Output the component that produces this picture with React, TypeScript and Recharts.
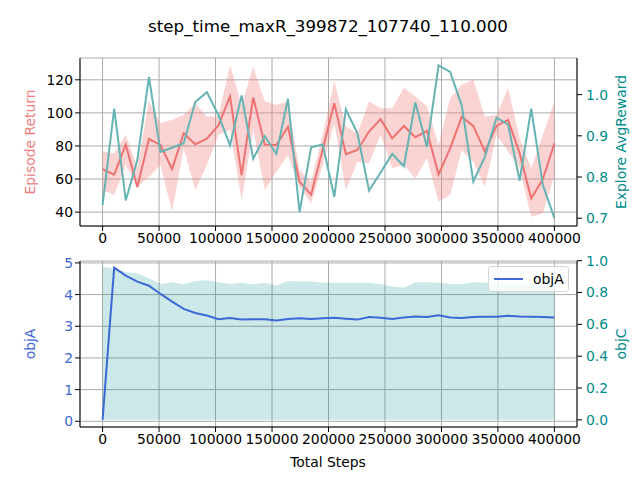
import React from "react";
import {
  ComposedChart,
  Line,
  Area,
  XAxis,
  YAxis,
  CartesianGrid,
  Legend,
} from "recharts";

// values
const steps = [
  0, 10260, 20510, 30770, 41030, 51280, 61540, 71790, 82050, 92310, 102560,
  112820, 123080, 133330, 143590, 153850, 164100, 174360, 184620, 194870,
  205130, 215380, 225640, 235900, 246150, 256410, 266670, 276920, 287180,
  297440, 307690, 317950, 328210, 338460, 348720, 358970, 369230, 379490,
  389740, 400000,
];
const episodeReturn = [
  66, 62.6, 80.8, 55, 84.2, 80.6, 66.1, 87.7, 81, 84.4, 92.5, 110, 62.4, 109.3,
  80.8, 80.6, 91.6, 58.4, 50.5, 78, 105.9, 75, 77.6, 88.7, 96.2, 84.6, 92.1,
  85.3, 89.1, 62.8, 78.6, 97.6, 92.1, 76.6, 92.1, 95.8, 75.5, 48.3, 59.9, 81.6,
];
const returnLow = [
  53.3, 50.3, 68.5, 55.5, 61.4, 68.5, 40.2, 78.6, 53.3, 68.5, 86.7, 89.7, 47.3,
  89.7, 53.3, 64.4, 74.5, 55.4, 45.3, 68.5, 93.7, 53.3, 70.5, 69.5, 86.7, 66.5,
  68.5, 60.4, 72.5, 46.3, 50.3, 77.6, 70.5, 55.4, 86.7, 76.6, 66.5, 37.2, 39.2,
  62.4,
];
const returnHigh = [
  76.6, 75.6, 86.7, 67, 106.9, 93.7, 95.8, 98.8, 105.9, 97.8, 97.8, 129, 104.8,
  128, 106.9, 104.8, 106.9, 65.5, 58.4, 86.7, 119.5, 91.7, 87.7, 106.9, 102.8,
  102.8, 115, 110, 103.8, 80.6, 108.9, 117, 120, 97.8, 98.8, 115, 84.6, 66.5,
  86.7, 106.9,
];
const exploreReward = [
  0.732, 0.966, 0.743, 0.841, 1.043, 0.861, 0.871, 0.882, 0.982, 1.006, 0.95,
  0.877, 0.998, 0.844, 0.899, 0.856, 0.99, 0.715, 0.872, 0.879, 0.752, 0.964,
  0.906, 0.767, 0.811, 0.856, 0.826, 0.981, 0.873, 1.071, 1.055, 0.974, 0.789,
  0.849, 0.944, 0.928, 0.791, 0.966, 0.781, 0.7,
];
const objA = [
  0.05, 4.85, 4.6, 4.41, 4.28, 4.02, 3.78, 3.55, 3.42, 3.34, 3.22, 3.26, 3.21,
  3.22, 3.22, 3.18, 3.23, 3.25, 3.23, 3.25, 3.27, 3.24, 3.21, 3.29, 3.27, 3.23,
  3.28, 3.31, 3.29, 3.35, 3.28, 3.26, 3.29, 3.3, 3.3, 3.33, 3.31, 3.3, 3.29,
  3.28,
];
const objC = [
  0.962, 0.952, 0.927, 0.921, 0.889, 0.854, 0.864, 0.852, 0.873, 0.877, 0.864,
  0.854, 0.862, 0.852, 0.862, 0.844, 0.873, 0.869, 0.869, 0.862, 0.862, 0.862,
  0.862, 0.862, 0.854, 0.837, 0.831, 0.864, 0.864, 0.862, 0.854, 0.854, 0.864,
  0.862, 0.857, 0.86, 0.86, 0.862, 0.862, 0.862,
];

const stepTicks = [0, 50000, 100000, 150000, 200000, 250000, 300000, 350000, 400000];
const returnTicks = [40, 60, 80, 100, 120];
const rewardTicks = [0.7, 0.8, 0.9, 1.0];
const objATicks = [0, 1, 2, 3, 4, 5];
const objCTicks = [0, 0.2, 0.4, 0.6, 0.8, 1.0];

const topData = steps.map((s, i) => ({
  step: s,
  ret: episodeReturn[i],
  band: [returnLow[i], returnHigh[i]],
  reward: exploreReward[i],
}));
const bottomData = steps.map((s, i) => ({ step: s, objA: objA[i], objC: objC[i] }));

const FONT = 13.9;
const GRID = "#ababab";
const RED = "#ee7272";
const PINK = "#f08080";
const TEAL = "#008b8b";
const TEAL_LINE = "#66b3b3";
const BLUE = "#3d68d6";
const STEP_DOMAIN = [-20000, 420000];

function AxisTitle({ x, y, text, color, rotate = true }) {
  return (
    <text
      x={x}
      y={y}
      transform={rotate ? `rotate(-90 ${x} ${y})` : undefined}
      textAnchor="middle"
      dominantBaseline="central"
      fill={color}
      fontSize={FONT}
    >
      {text}
    </text>
  );
}

export default function App() {
  return (
    <div
      style={{
        position: "absolute",
        left: 0,
        top: 0,
        width: 640,
        height: 480,
        background: "#fff",
        fontFamily: "DejaVu Sans",
      }}
    >
      <div
        style={{
          position: "absolute",
          left: 0,
          top: 16,
          width: 656,
          textAlign: "center",
          fontSize: 16.7,
          color: "#000",
        }}
      >
        step_time_maxR_399872_107740_110.000
      </div>

      <div style={{ position: "absolute", left: 0, top: 0 }}>
        <ComposedChart
          width={640}
          height={250}
          data={topData}
          margin={{ top: 58, right: 0, bottom: 0, left: 0 }}
        >
          <CartesianGrid stroke={GRID} yAxisId="left" />
          <XAxis
            dataKey="step"
            type="number"
            domain={STEP_DOMAIN}
            ticks={stepTicks}
            interval={0}
            allowDataOverflow
            height={24}
            stroke="#000"
            tickSize={5}
            tick={{ fill: "#000", fontSize: FONT }}
          />
          <XAxis
            xAxisId="top"
            orientation="top"
            type="number"
            domain={STEP_DOMAIN}
            allowDataOverflow
            height={0}
            tick={false}
            tickLine={false}
            stroke="#000"
          />
          <YAxis
            yAxisId="left"
            domain={[31.6, 133.2]}
            ticks={returnTicks}
            interval={0}
            allowDataOverflow
            width={80}
            stroke="#000"
            tickSize={5}
            tick={{ fill: "#000", fontSize: FONT }}
            label={{
              content: () => (
                <AxisTitle x={30} y={142} text="Episode Return" color={PINK} />
              ),
            }}
          />
          <YAxis
            yAxisId="right"
            orientation="right"
            domain={[0.681, 1.089]}
            ticks={rewardTicks}
            interval={0}
            allowDataOverflow
            width={63}
            stroke="#000"
            tickSize={5}
            tickMargin={4}
            tickFormatter={(v) => Number(v).toFixed(1)}
            tick={{ fill: TEAL, fontSize: FONT }}
            label={{
              content: () => (
                <AxisTitle x={621} y={142} text="Explore AvgReward" color={TEAL} />
              ),
            }}
          />
          <Area
            yAxisId="left"
            type="linear"
            dataKey="band"
            stroke="none"
            fill={PINK}
            fillOpacity={0.35}
            isAnimationActive={false}
          />
          <Line
            yAxisId="left"
            type="linear"
            dataKey="ret"
            stroke={RED}
            strokeWidth={2}
            dot={false}
            activeDot={false}
            isAnimationActive={false}
          />
          <Line
            yAxisId="right"
            type="linear"
            dataKey="reward"
            stroke={TEAL_LINE}
            strokeWidth={2}
            dot={false}
            activeDot={false}
            isAnimationActive={false}
          />
        </ComposedChart>
      </div>

      <div style={{ position: "absolute", left: 0, top: 250 }}>
        <ComposedChart
          width={640}
          height={230}
          data={bottomData}
          margin={{ top: 11, right: 0, bottom: 0, left: 0 }}
        >
          <CartesianGrid stroke={GRID} yAxisId="left" />
          <XAxis
            dataKey="step"
            type="number"
            domain={STEP_DOMAIN}
            ticks={stepTicks}
            interval={0}
            allowDataOverflow
            height={53}
            stroke="#000"
            tickSize={5}
            tick={{ fill: "#000", fontSize: FONT }}
            label={{
              content: () => (
                <AxisTitle x={328} y={212} text="Total Steps" color="#000" rotate={false} />
              ),
            }}
          />
          <XAxis
            xAxisId="top"
            orientation="top"
            type="number"
            domain={STEP_DOMAIN}
            allowDataOverflow
            height={0}
            tick={false}
            tickLine={false}
            stroke="#000"
          />
          <YAxis
            yAxisId="left"
            domain={[-0.18, 5.06]}
            ticks={objATicks}
            interval={0}
            allowDataOverflow
            width={80}
            stroke="#000"
            tickSize={5}
            tick={{ fill: BLUE, fontSize: FONT }}
            label={{
              content: () => <AxisTitle x={30} y={94} text="objA" color={BLUE} />,
            }}
          />
          <YAxis
            yAxisId="right"
            orientation="right"
            domain={[-0.045, 0.998]}
            ticks={objCTicks}
            interval={0}
            allowDataOverflow
            width={63}
            stroke="#000"
            tickSize={5}
            tickMargin={4}
            tickFormatter={(v) => Number(v).toFixed(1)}
            tick={{ fill: TEAL, fontSize: FONT }}
            label={{
              content: () => <AxisTitle x={621} y={94} text="objC" color={TEAL} />,
            }}
          />
          <Area
            yAxisId="right"
            type="linear"
            dataKey="objC"
            stroke="none"
            fill={TEAL}
            fillOpacity={0.2}
            legendType="none"
            isAnimationActive={false}
          />
          <Line
            yAxisId="left"
            type="linear"
            dataKey="objA"
            name="objA"
            stroke={BLUE}
            strokeWidth={2}
            dot={false}
            activeDot={false}
            isAnimationActive={false}
          />
          <Legend
            verticalAlign="middle"
            align="center"
            layout="horizontal"
            wrapperStyle={{ left: 488, top: 16, width: 81, height: 26 }}
            content={({ payload }) => (
              <div
                style={{
                  boxSizing: "border-box",
                  width: 81,
                  height: 26,
                  border: "1px solid #d6d6d6",
                  borderRadius: 3,
                  background: "rgba(255,255,255,0.8)",
                  display: "flex",
                  alignItems: "center",
                  paddingLeft: 5,
                }}
              >
                {(payload || [])
                  .filter((p) => p.dataKey === "objA")
                  .map((p) => (
                    <span
                      key={String(p.value)}
                      style={{ display: "flex", alignItems: "center" }}
                    >
                      <svg width={29} height={4}>
                        <line x1={0} y1={2} x2={29} y2={2} stroke={BLUE} strokeWidth={2} />
                      </svg>
                      <span style={{ marginLeft: 10, fontSize: FONT, color: "#000" }}>
                        {p.value}
                      </span>
                    </span>
                  ))}
              </div>
            )}
          />
        </ComposedChart>
      </div>
    </div>
  );
}
